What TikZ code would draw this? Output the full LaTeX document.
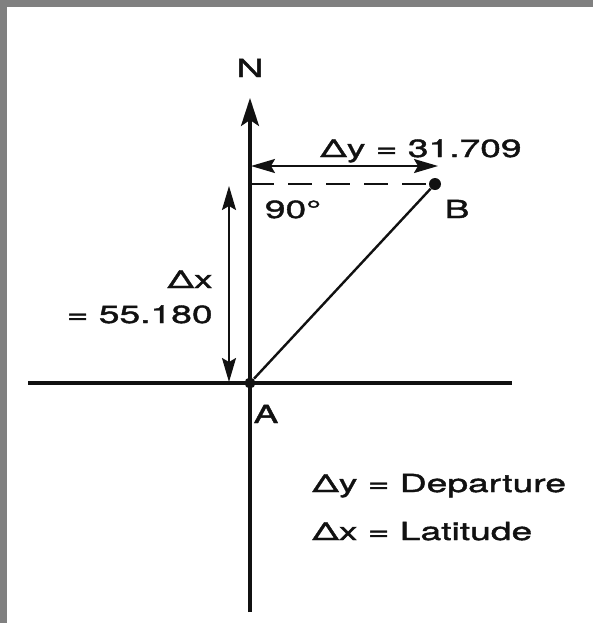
\documentclass[tikz,border=0pt]{standalone}
\usepackage{fontspec}
\setmainfont{TeX Gyre Heros}[FakeStretch=1.5, FakeBold=1.6]
\usetikzlibrary{arrows.meta,positioning}
\definecolor{trvFrame}{HTML}{808080}
\definecolor{trvInk}{HTML}{111111}
\tikzset{
  trv axis/.style={draw=trvInk, line width=1.6pt},
  trv line/.style={draw=trvInk, line width=1.2pt},
  trv dim/.style={draw=trvInk, line width=1pt},
  trv dash/.style={draw=trvInk, line width=1.1pt, dash pattern=on 12pt off 7pt},
  trv dot/.style={circle, fill=trvInk, inner sep=0pt, minimum size=5.5pt},
  trv label/.style={font=\fontsize{12.4}{14}\selectfont, text=trvInk, inner sep=0pt},
  trvTip/.tip={Stealth[length=12pt, width=7pt, inset=2pt]},
}

\begin{document}
\begin{tikzpicture}[x=0.5pt, y=-0.5pt]
  % frame of the scan
  \fill[trvFrame] (0,0) rectangle (593,623);
  \fill[white] (7,7) rectangle (593,623);
  \useasboundingbox (0,0) rectangle (593,623);

  % axes
  \coordinate (north) at (250,98);
  \coordinate (south) at (250,612);
  \coordinate (west) at (28,383);
  \coordinate (east) at (512,383);
  \draw[trv axis, -{Stealth[length=14pt, width=9pt, inset=3pt]}] (south) -- (north);
  \draw[trv axis] (west) -- (east);
  \node[trv label, anchor=base] (nLabel) at (250,77) {N};

  % stations
  \node[trv dot] (A) at (250,383) {};
  \node[trv dot, minimum size=6pt] (B) at (435,184) {};
  \coordinate (bFoot) at (250,184);
  \draw[trv line] (A) -- (B);
  \draw[trv dash] (bFoot) -- (B);
  \node[trv label, anchor=base] (aLabel) at (266,423) {A};
  \node[trv label, anchor=base] (bLabel) at (457,218) {B};
  \node[trv label, anchor=base] (rightAngle) at (293,218) {90°};

  % departure
  \coordinate (dyWest) at (251,166);
  \coordinate (dyEast) at (438,166);
  \draw[trv dim, trvTip-trvTip] (dyWest) -- (dyEast);
  \node[trv label, anchor=base] (dyLabel) at (421,157) {Δy = 31.709};

  % latitude
  \coordinate (dxTop) at (229,186);
  \coordinate (dxBot) at (229,382);
  \draw[trv dim, trvTip-trvTip] (dxBot) -- (dxTop);
  \node[trv label, anchor=base east] (dxLabel) at (213,288) {Δx};
  \node[trv label, anchor=base east] (dxValue) at (213,323) {= 55.180};

  % legend
  \node[trv label, anchor=base west] (depKey) at (312,492) {Δy = Departure};
  \node[trv label, anchor=base west] (latKey) at (312,540) {Δx = Latitude};
\end{tikzpicture}
\end{document}
